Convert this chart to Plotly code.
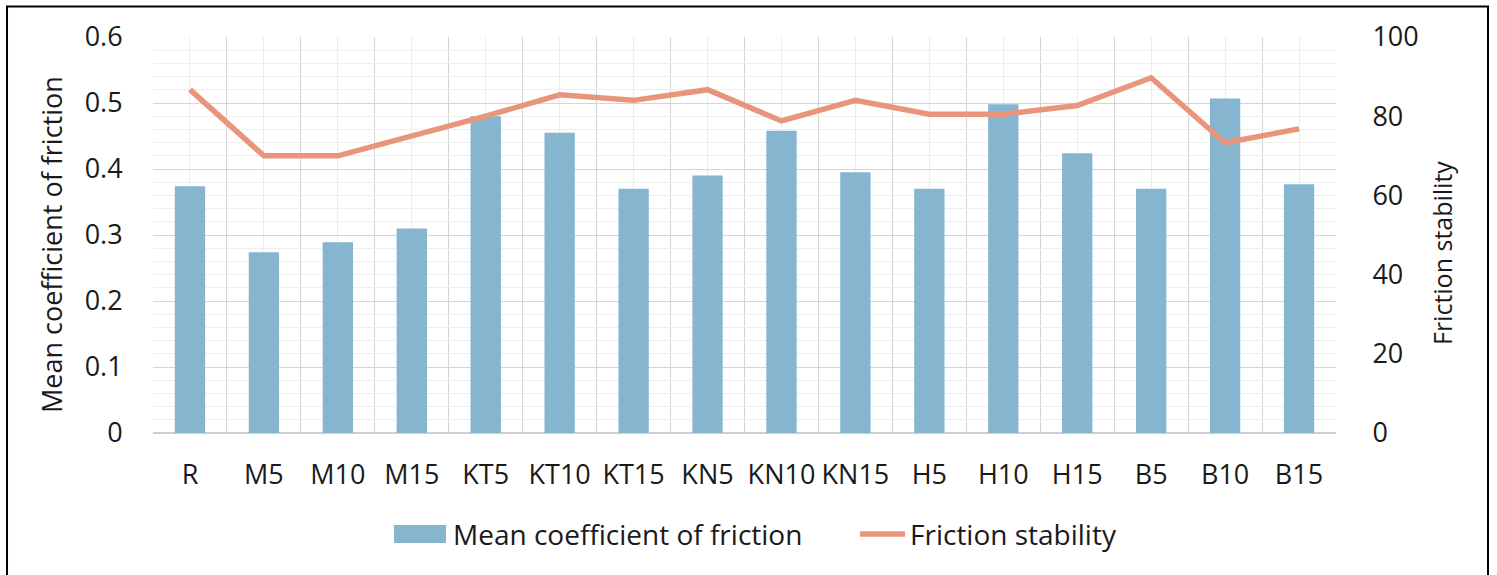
import plotly.graph_objects as go

# Sample groups and measured values
categories = ["R", "M5", "M10", "M15", "KT5", "KT10", "KT15", "KN5", "KN10",
              "KN15", "H5", "H10", "H15", "B5", "B10", "B15"]
mean_cof = [0.374, 0.274, 0.289, 0.310, 0.480, 0.455, 0.370, 0.390, 0.458,
            0.395, 0.370, 0.498, 0.424, 0.370, 0.507, 0.377]
friction_stability = [86.7, 70.0, 70.0, 75.0, 80.0, 85.4, 84.0, 86.7, 78.8,
                      84.0, 80.5, 80.5, 82.7, 89.7, 73.3, 76.8]

bar_name = "Mean coefficient of friction"
line_name = "Friction stability"

x_pos = list(range(len(categories)))
boundaries = [i - 0.5 for i in range(len(categories) + 1)]

FONT = "Open Sans"
TICK_FS = 27
LEGEND_FS = 28
BAR_COLOR = "#85B5CF"
LINE_COLOR = "#E9957B"
TEXT_COLOR = "#1a1a1a"

fig = go.Figure()
fig.add_trace(go.Bar(
    x=x_pos, y=mean_cof, name=bar_name,
    marker=dict(color=BAR_COLOR, line=dict(width=0)), width=0.41,
))
fig.add_trace(go.Scatter(
    x=x_pos, y=friction_stability, name=line_name, yaxis="y2",
    mode="lines", line=dict(color=LINE_COLOR, width=5.5),
))

# Legend row below the plot, laid out in paper coordinates
legend_y = -0.255
shapes = [
    dict(type="rect", xref="paper", yref="paper",
         x0=0.2037, x1=0.2477, y0=-0.2778, y1=-0.2323,
         fillcolor=BAR_COLOR, line=dict(width=0)),
    dict(type="line", xref="paper", yref="paper",
         x0=0.5976, x1=0.6357, y0=legend_y, y1=legend_y,
         line=dict(color=LINE_COLOR, width=5.5)),
    # outer frame of the figure
    dict(type="rect", xref="paper", yref="paper",
         x0=-0.1234, x1=1.1285, y0=-0.4, y1=1.077,
         line=dict(color="black", width=2), fillcolor="rgba(0,0,0,0)",
         layer="above"),
]
annotations = [
    dict(text=bar_name, xref="paper", yref="paper", x=0.2519, y=legend_y,
         xanchor="left", yanchor="middle", showarrow=False,
         font=dict(size=LEGEND_FS)),
    dict(text=line_name, xref="paper", yref="paper", x=0.638, y=legend_y,
         xanchor="left", yanchor="middle", showarrow=False,
         font=dict(size=LEGEND_FS)),
    # axis titles
    dict(text=bar_name, xref="paper", yref="paper", x=-0.0862, y=0.4747,
         xanchor="center", yanchor="middle", textangle=-90, showarrow=False,
         font=dict(size=27)),
    dict(text=line_name, xref="paper", yref="paper", x=1.0896, y=0.4545,
         xanchor="center", yanchor="middle", textangle=-90, showarrow=False,
         font=dict(size=25)),
]

fig.update_layout(
    width=1497, height=575,
    margin=dict(l=153, r=161, t=37, b=142),
    paper_bgcolor="white", plot_bgcolor="white",
    font=dict(family=FONT, size=TICK_FS, color=TEXT_COLOR),
    showlegend=False,
    xaxis=dict(
        range=[-0.5, len(categories) - 0.5],
        tickmode="array", tickvals=x_pos, ticktext=categories,
        showgrid=True, gridcolor="#ececec", gridwidth=1,
        minor=dict(tickmode="array", tickvals=boundaries, showgrid=True,
                   gridcolor="#d4d4d4", gridwidth=1.2, ticks=""),
        ticks="outside", ticklen=18, tickcolor="rgba(0,0,0,0)",
        showline=False, zeroline=False,
        tickfont=dict(size=TICK_FS),
    ),
    yaxis=dict(
        range=[0, 0.6], tickmode="linear", tick0=0, dtick=0.1,
        showgrid=True, gridcolor="#d6d6d6", gridwidth=1.2,
        minor=dict(dtick=0.02, showgrid=True, gridcolor="#eeeeee", gridwidth=1),
        ticks="outside", ticklen=24, tickcolor="rgba(0,0,0,0)",
        zeroline=True, zerolinecolor="#cfcfcf", zerolinewidth=1.5,
        tickfont=dict(size=TICK_FS),
    ),
    yaxis2=dict(
        range=[0, 100], tickmode="linear", tick0=0, dtick=20,
        overlaying="y", side="right", showgrid=False, zeroline=False,
        ticks="outside", ticklen=30, tickcolor="rgba(0,0,0,0)",
        tickfont=dict(size=TICK_FS),
    ),
    shapes=shapes,
    annotations=annotations,
)

fig.write_html("out.html")
